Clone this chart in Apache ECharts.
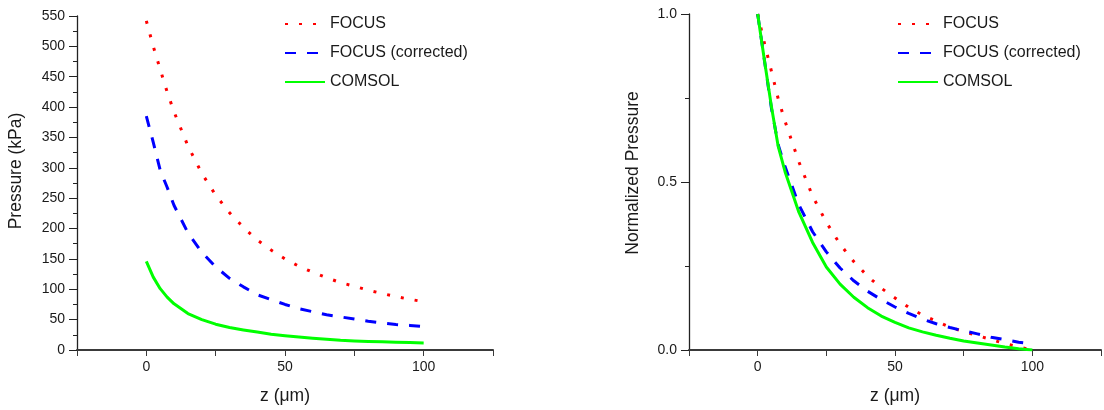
<!DOCTYPE html>
<html>
<head>
<meta charset="utf-8">
<script src="https://cdn.jsdelivr.net/npm/echarts@6/dist/echarts.min.js"></script>
<style>
  html, body { margin: 0; padding: 0; background: #fff; }
  #chart { width: 1104px; height: 410px; }
</style>
</head>
<body>
<div id="chart"></div>
<script>
// Axial position (µm)
const zPos = [0, 2.5, 5, 7.5, 10, 15, 20, 25, 30, 35, 40, 45, 50, 55, 60, 65, 70, 75, 80, 85, 90, 95, 100];

// Pressure (kPa)
const focusKPa     = [542, 500, 462, 425, 392, 336, 291, 255, 226, 202, 181, 164.5, 150, 138, 128, 119, 111, 105, 98.5, 93, 88, 83.5, 79.5];
const correctedKPa = [385, 342, 296, 268, 238, 193, 161, 137, 118, 104, 91, 83, 75, 68, 63, 58, 54.5, 51, 47.3, 44.3, 42, 40.5, 38.5];
const comsolKPa    = [146, 120, 101, 87, 76, 60, 50, 42.5, 37, 33, 29.5, 26, 23.5, 21.5, 19.5, 17.8, 16, 15, 14, 13.4, 12.8, 12.2, 11.5];

// Normalized pressure
const focusNorm     = [1.0, 0.912, 0.83, 0.747, 0.68, 0.56, 0.458, 0.38, 0.315, 0.263, 0.22, 0.184, 0.155, 0.127, 0.104, 0.086, 0.068, 0.055, 0.043, 0.031, 0.019, 0.009, 0.0];
const correctedNorm = [1.0, 0.86, 0.72, 0.61, 0.545, 0.432, 0.352, 0.292, 0.244, 0.206, 0.175, 0.15, 0.128, 0.109, 0.092, 0.078, 0.067, 0.057, 0.048, 0.038, 0.031, 0.023, 0.018];
const comsolNorm    = [1.0, 0.86, 0.725, 0.605, 0.53, 0.41, 0.32, 0.247, 0.196, 0.157, 0.126, 0.101, 0.082, 0.066, 0.054, 0.044, 0.035, 0.027, 0.021, 0.015, 0.009, 0.004, 0.0];

const seriesNames = ['FOCUS', 'FOCUS (corrected)', 'COMSOL'];
const xTickLabels = ['0', '50', '100'];
const leftYLabel = 'Pressure (kPa)';
const rightYLabel = 'Normalized Pressure';
const xLabel = 'z (\u03bcm)';

const FONT = '"Liberation Sans", Arial, sans-serif';
const TXT = '#1a1a1a';

const styles = [
  { color: '#ff0000', width: 3, type: [3, 11] },
  { color: '#0000ff', width: 3, type: [11, 11] },
  { color: '#00ff00', width: 3, type: 'solid' }
];

function pairs(ys) { return zPos.map((z, i) => [z, ys[i]]); }

function xAxis(gridIndex) {
  return {
    type: 'value', gridIndex: gridIndex, min: -25, max: 125, interval: 25,
    name: xLabel, nameLocation: 'middle', nameGap: 37,
    nameTextStyle: { fontFamily: FONT, fontSize: 17.5, color: TXT },
    axisLine: { show: true, onZero: false, lineStyle: { color: '#3a3a3a', width: 2 } },
    axisTick: { show: true, inside: false, length: 6, lineStyle: { color: '#3a3a3a', width: 1 } },
    axisLabel: {
      margin: 10, fontFamily: FONT, fontSize: 14, color: TXT,
      formatter: v => (xTickLabels.indexOf(String(v)) >= 0 ? String(v) : ''),
      showMinLabel: true, showMaxLabel: true
    },
    splitLine: { show: false }
  };
}

function yAxis(gridIndex, opts) {
  return Object.assign({
    type: 'value', gridIndex: gridIndex,
    nameLocation: 'middle',
    nameTextStyle: { fontFamily: FONT, fontSize: 17.5, color: TXT },
    axisLine: { show: true, onZero: false, lineStyle: { color: '#222', width: 1.3 } },
    axisTick: { show: true, inside: false, length: 8, lineStyle: { color: '#222', width: 1 } },
    minorTick: { show: true, splitNumber: 2, length: 4, lineStyle: { color: '#222', width: 1 } },
    axisLabel: { margin: 12, fontFamily: FONT, fontSize: 14, color: TXT },
    splitLine: { show: false }
  }, opts);
}

function lineSeries(name, idx, gridIndex, ys) {
  const s = styles[idx];
  return {
    name: name, type: 'line', xAxisIndex: gridIndex, yAxisIndex: gridIndex,
    data: pairs(ys), symbol: 'none', smooth: false,
    lineStyle: { color: s.color, width: s.width, type: s.type, cap: 'butt', join: 'round' },
    itemStyle: { color: s.color },
    animation: false
  };
}

function legend(left) {
  return {
    orient: 'vertical', left: left, top: 11,
    itemWidth: 40, itemHeight: 14, itemGap: 13,
    data: seriesNames,
    // line sample only, no marker on top of it
    itemStyle: { color: 'rgba(0,0,0,0)', borderColor: 'rgba(0,0,0,0)', borderWidth: 0, opacity: 0 },
    textStyle: { fontFamily: FONT, fontSize: 16, color: TXT },
    selectedMode: false
  };
}

const chart = echarts.init(document.getElementById('chart'), null, { renderer: 'canvas' });
chart.setOption({
  backgroundColor: '#ffffff',
  animation: false,
  grid: [
    { left: 77, right: 611, top: 16, bottom: 59.5 },
    { left: 689, right: 1, top: 14, bottom: 59.3 }
  ],
  legend: [legend(279), legend(892)],
  xAxis: [xAxis(0), xAxis(1)],
  yAxis: [
    yAxis(0, {
      min: 0, max: 550, interval: 50, name: leftYLabel, nameGap: 52,
      nameTextStyle: { fontFamily: FONT, fontSize: 17.5, color: TXT, padding: [0, 0, 0, 24] }
    }),
    yAxis(1, {
      min: 0, max: 1, interval: 0.5, name: rightYLabel, nameGap: 47,
      nameTextStyle: { fontFamily: FONT, fontSize: 17.5, color: TXT, padding: [0, 0, 0, 18] },
      axisLabel: { margin: 12, fontFamily: FONT, fontSize: 14, color: TXT, formatter: v => v.toFixed(1) }
    })
  ],
  series: [
    lineSeries(seriesNames[0], 0, 0, focusKPa),
    lineSeries(seriesNames[1], 1, 0, correctedKPa),
    lineSeries(seriesNames[2], 2, 0, comsolKPa),
    lineSeries(seriesNames[0], 0, 1, focusNorm),
    lineSeries(seriesNames[1], 1, 1, correctedNorm),
    lineSeries(seriesNames[2], 2, 1, comsolNorm)
  ]
});
</script>
</body>
</html>
